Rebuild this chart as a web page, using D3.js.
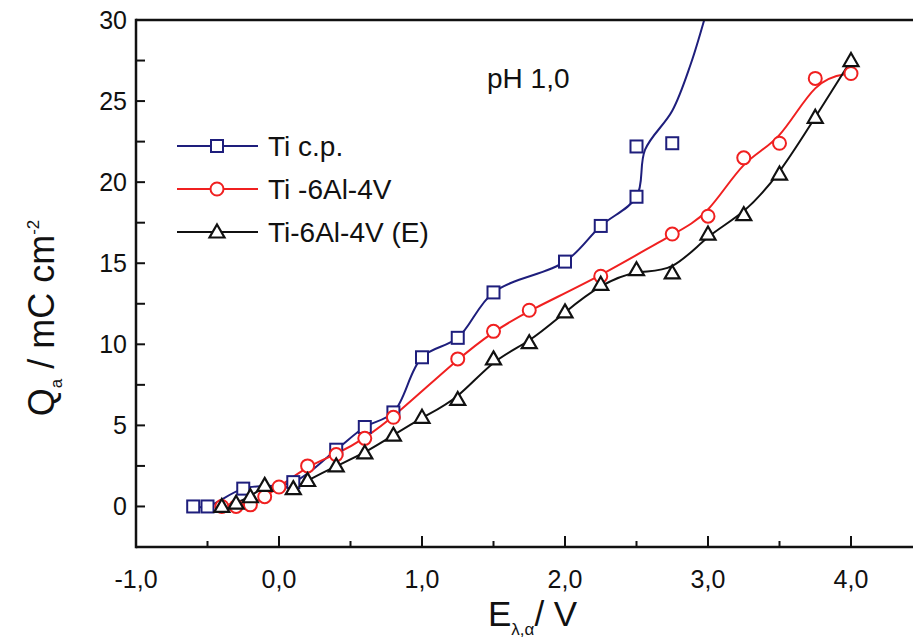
<!DOCTYPE html>
<html>
<head>
<meta charset="utf-8">
<script src="https://cdn.jsdelivr.net/npm/d3@7/dist/d3.min.js"></script>
<style>
  html, body { margin: 0; padding: 0; background: #fff; }
  svg { display: block; font-family: "Liberation Sans", Arial, Helvetica, sans-serif; }
</style>
</head>
<body>
<svg id="chart" width="913" height="641"></svg>
<script>
// Anodic charge vs. formation potential, pH 1,0

// Ti c.p. measured points
const ticpE = [-0.6, -0.5, -0.25, 0.1, 0.4, 0.6, 0.8, 1.0, 1.25, 1.5, 2.0, 2.25, 2.5, 2.5, 2.75];
const ticpQ = [0.0, 0.0, 1.1, 1.5, 3.5, 4.9, 5.8, 9.2, 10.4, 13.2, 15.1, 17.3, 19.1, 22.2, 22.4];
// Ti c.p. fitted curve knots (continues above the top of the frame)
const ticpCurveE = [-0.6, -0.5, -0.25, 0.1, 0.4, 0.6, 0.8, 1.0, 1.25, 1.5, 2.0, 2.25, 2.5, 2.56, 2.75, 2.88, 2.98, 3.05];
const ticpCurveQ = [0.0, 0.0, 1.1, 1.5, 3.5, 4.9, 5.8, 9.2, 10.4, 13.2, 15.1, 17.3, 19.1, 22.0, 24.4, 27.3, 30.2, 32.5];

// Ti-6Al-4V
const ti64E = [-0.4, -0.3, -0.2, -0.1, 0.0, 0.2, 0.4, 0.6, 0.8, 1.25, 1.5, 1.75, 2.25, 2.75, 3.0, 3.25, 3.5, 3.75, 4.0];
const ti64Q = [0.0, 0.0, 0.1, 0.6, 1.2, 2.5, 3.2, 4.2, 5.5, 9.1, 10.8, 12.1, 14.2, 16.8, 17.9, 21.5, 22.4, 26.4, 26.7];

// Ti-6Al-4V (E)
const ti64eE = [-0.4, -0.3, -0.2, -0.1, 0.1, 0.2, 0.4, 0.6, 0.8, 1.0, 1.25, 1.5, 1.75, 2.0, 2.25, 2.5, 2.75, 3.0, 3.25, 3.5, 3.75, 4.0];
const ti64eQ = [0.0, 0.2, 0.6, 1.3, 1.1, 1.6, 2.5, 3.3, 4.4, 5.5, 6.6, 9.1, 10.1, 12.0, 13.7, 14.6, 14.4, 16.8, 18.0, 20.5, 24.0, 27.5];

// Axis ticks and labels
const xMajorTicks = [-1, 0, 1, 2, 3, 4];
const xTickLabels = ["-1,0", "0,0", "1,0", "2,0", "3,0", "4,0"];
const xMinorTicks = [-0.5, 0.5, 1.5, 2.5, 3.5];
const yMajorTicks = [0, 5, 10, 15, 20, 25, 30];
const yMinorTicks = [-2.5, 2.5, 7.5, 12.5, 17.5, 22.5, 27.5];

const seriesNames = ["Ti c.p.", "Ti -6Al-4V", "Ti-6Al-4V (E)"];

const svg = d3.select("#chart");
const plotLeft = 136, plotTop = 20, plotBottom = 547;
const x = d3.scaleLinear().domain([-1, 4.5]).range([plotLeft, plotLeft + 5.5 * 143]);
const y = d3.scaleLinear().domain([-2.5, 30]).range([plotBottom, plotTop]);
const plotRight = x(4.5);

svg.append("defs").append("clipPath").attr("id", "plotClip")
  .append("rect").attr("x", plotLeft).attr("y", plotTop)
  .attr("width", plotRight - plotLeft).attr("height", plotBottom - plotTop);

const zip = (xs, ys) => xs.map((v, i) => [v, ys[i]]);

const series = [
  { name: seriesNames[0], color: "#1e1e7c", shape: "square", pts: zip(ticpE, ticpQ), curve: zip(ticpCurveE, ticpCurveQ), smooth: d3.curveCatmullRom.alpha(0.5) },
  { name: seriesNames[1], color: "#f02020", shape: "circle", pts: zip(ti64E, ti64Q), curve: zip(ti64E, ti64Q), smooth: d3.curveBasis },
  { name: seriesNames[2], color: "#111111", shape: "triangle", pts: zip(ti64eE, ti64eQ), curve: zip(ti64eE, ti64eQ), smooth: d3.curveBasis }
];

const plot = svg.append("g").attr("clip-path", "url(#plotClip)");

// Smoothed curves
series.forEach(s => {
  const line = d3.line().x(d => x(d[0])).y(d => y(d[1])).curve(s.smooth);
  plot.append("path")
    .attr("d", line(s.curve))
    .attr("fill", "none")
    .attr("stroke", s.color)
    .attr("stroke-width", 2);
});

// Marker drawing
function marker(g, shape, color) {
  if (shape === "square") {
    g.append("rect").attr("x", -6).attr("y", -6).attr("width", 12).attr("height", 12)
      .attr("fill", "#fff").attr("stroke", color).attr("stroke-width", 2);
  } else if (shape === "circle") {
    g.append("circle").attr("r", 6.5)
      .attr("fill", "#fff").attr("stroke", color).attr("stroke-width", 2);
  } else {
    g.append("path").attr("d", "M0,-7.5L7.5,5.5L-7.5,5.5Z")
      .attr("fill", "#fff").attr("stroke", color).attr("stroke-width", 2.2)
      .attr("stroke-linejoin", "miter");
  }
}

series.forEach(s => {
  plot.append("g").selectAll("g").data(s.pts).join("g")
    .attr("transform", d => `translate(${x(d[0])},${y(d[1])})`)
    .each(function () { marker(d3.select(this), s.shape, s.color); });
});

// Frame and axes
const axisColor = "#111";
svg.append("line").attr("x1", plotLeft).attr("x2", plotRight + 20).attr("y1", plotTop).attr("y2", plotTop)
  .attr("stroke", axisColor).attr("stroke-width", 2.5);
svg.append("line").attr("x1", plotLeft).attr("x2", plotRight + 20).attr("y1", plotBottom).attr("y2", plotBottom)
  .attr("stroke", axisColor).attr("stroke-width", 2.5);
svg.append("line").attr("x1", plotLeft).attr("x2", plotLeft).attr("y1", plotTop - 1.2).attr("y2", plotBottom + 1.2)
  .attr("stroke", axisColor).attr("stroke-width", 2.5);

// X ticks (inward)
svg.append("g").selectAll("line").data(xMajorTicks).join("line")
  .attr("x1", d => x(d)).attr("x2", d => x(d))
  .attr("y1", plotBottom).attr("y2", plotBottom - 11)
  .attr("stroke", axisColor).attr("stroke-width", 2);
svg.append("g").selectAll("line").data(xMinorTicks).join("line")
  .attr("x1", d => x(d)).attr("x2", d => x(d))
  .attr("y1", plotBottom).attr("y2", plotBottom - 6)
  .attr("stroke", axisColor).attr("stroke-width", 2);
svg.append("g").selectAll("text").data(xMajorTicks).join("text")
  .attr("x", d => x(d)).attr("y", 588)
  .attr("text-anchor", "middle")
  .attr("font-size", 25).attr("fill", "#111")
  .text((d, i) => xTickLabels[i]);

// Y ticks (inward)
svg.append("g").selectAll("line").data(yMajorTicks.concat(yMinorTicks)).join("line")
  .attr("x1", plotLeft).attr("x2", plotLeft + 9)
  .attr("y1", d => y(d)).attr("y2", d => y(d))
  .attr("stroke", axisColor).attr("stroke-width", 2);
svg.append("g").selectAll("text").data(yMajorTicks).join("text")
  .attr("x", 127).attr("y", d => y(d) + 9)
  .attr("text-anchor", "end")
  .attr("font-size", 25).attr("fill", "#111")
  .text(d => d);

// Axis titles
const xTitle = svg.append("text").attr("x", 488).attr("y", 626)
  .attr("font-size", 35).attr("fill", "#111");
xTitle.append("tspan").text("E");
xTitle.append("tspan").attr("font-size", 17).attr("dy", 9).text("λ,α");
xTitle.append("tspan").attr("dy", -9).text("/ V");

const yTitle = svg.append("text")
  .attr("transform", "translate(54,318) rotate(-90)")
  .attr("text-anchor", "middle")
  .attr("font-size", 36).attr("fill", "#111");
yTitle.append("tspan").text("Q");
yTitle.append("tspan").attr("font-size", 17).attr("dy", 8).text("a");
yTitle.append("tspan").attr("dy", -8).text(" / mC cm");
yTitle.append("tspan").attr("font-size", 17).attr("dy", -15).text("-2");

// Annotation
svg.append("text").attr("x", 487).attr("y", 88)
  .attr("font-size", 28).attr("fill", "#111").text("pH 1,0");

// Legend
const legend = svg.append("g");
series.forEach((s, i) => {
  const ly = 146 + i * 43;
  legend.append("line").attr("x1", 177).attr("x2", 258).attr("y1", ly).attr("y2", ly)
    .attr("stroke", s.color).attr("stroke-width", 2);
  const m = legend.append("g").attr("transform", `translate(217,${ly})`);
  marker(m, s.shape, s.color);
  legend.append("text").attr("x", 268).attr("y", ly + 10)
    .attr("font-size", 28).attr("fill", "#111").text(s.name);
});
</script>
</body>
</html>
